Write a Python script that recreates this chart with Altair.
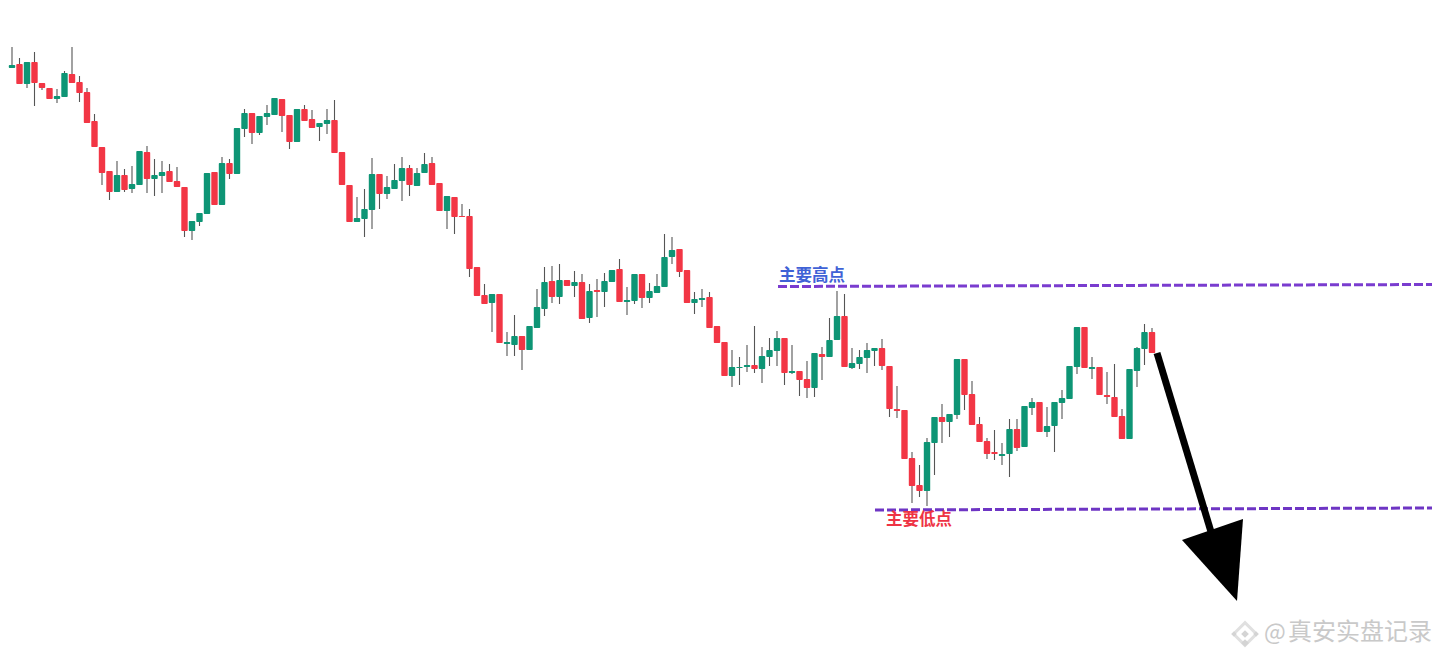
import altair as alt
import pandas as pd

# Candles (chart levels; smaller = higher on the page)
direction = ("r g r g r r r g g r "
             "r r r r r g r g g r "
             "g g r r r g g g r g "
             "r g g r g g g r r g "
             "r r g g r r r g g g "
             "r g g g r g g r r g "
             "r r r r r g r g g r "
             "g g g r g r g r g r "
             "g g r g g r g g g g "
             "r r g g r r r g g g "
             "r g g g r g r r g r "
             "g g r g g g g r r r "
             "r r r g g r g g r r "
             "r r r g g r g g r g "
             "g g g g r g r r r r "
             "g g g r").split()

body_top = [66, 65, 64, 62, 62, 83, 88, 96, 73, 74,
            82, 92, 121, 147, 171, 175, 175, 184, 151, 152,
            175, 172, 171, 181, 187, 221, 213, 173, 172, 163,
            163, 128, 113, 113, 116, 113, 98, 99, 115, 109,
            109, 119, 123, 120, 120, 152, 185, 218, 209, 174,
            174, 187, 180, 168, 168, 173, 164, 163, 183, 196,
            197, 216, 216, 267, 295, 294, 294, 342, 336, 336,
            326, 307, 282, 281, 280, 280, 282, 282, 291, 290,
            281, 270, 269, 300, 274, 274, 291, 286, 257, 250,
            249, 270, 299, 298, 297, 326, 342, 367, 367, 365,
            365, 356, 350, 338, 338, 371, 371, 379, 353, 354,
            340, 316, 316, 363, 357, 350, 348, 348, 366, 409,
            410, 458, 485, 442, 417, 417, 414, 359, 359, 394,
            424, 441, 452, 454, 429, 429, 406, 402, 402, 426,
            402, 398, 366, 327, 327, 367, 367, 395, 397, 416,
            369, 348, 332, 332]
body_bot = [69, 68, 84, 84, 83, 88, 99, 99, 97, 83,
            93, 123, 147, 173, 192, 192, 190, 189, 185, 179,
            179, 176, 182, 187, 231, 231, 222, 214, 205, 205,
            174, 174, 129, 133, 133, 117, 115, 116, 142, 142,
            121, 128, 127, 124, 153, 185, 222, 222, 219, 210,
            194, 194, 189, 181, 185, 186, 173, 185, 211, 211,
            217, 217, 269, 296, 304, 303, 343, 344, 345, 350,
            350, 328, 309, 297, 297, 286, 286, 319, 318, 292,
            292, 282, 302, 302, 301, 298, 298, 293, 287, 257,
            272, 303, 303, 300, 328, 343, 376, 376, 368, 367,
            369, 369, 357, 351, 373, 373, 380, 388, 388, 357,
            357, 340, 367, 368, 364, 358, 351, 366, 409, 411,
            459, 486, 491, 491, 443, 422, 422, 415, 395, 425,
            442, 454, 454, 456, 454, 448, 447, 408, 432, 432,
            426, 403, 399, 367, 368, 369, 395, 397, 417, 439,
            439, 371, 349, 353]
wick_top = [63, 47, 58, 62, 52, 83, 88, 89, 71, 47,
            76, 88, 114, 147, 171, 161, 169, 166, 151, 146,
            159, 161, 164, 167, 187, 221, 213, 173, 172, 157,
            159, 128, 109, 113, 116, 105, 98, 99, 115, 109,
            105, 110, 123, 109, 100, 152, 185, 197, 189, 158,
            174, 176, 164, 157, 165, 168, 153, 157, 183, 196,
            197, 204, 209, 267, 284, 294, 294, 332, 315, 336,
            326, 289, 267, 266, 264, 280, 271, 274, 284, 279,
            273, 270, 259, 287, 274, 274, 283, 274, 234, 237,
            249, 270, 292, 289, 292, 326, 342, 350, 357, 345,
            326, 347, 338, 331, 338, 345, 371, 361, 353, 347,
            318, 291, 294, 348, 350, 343, 348, 339, 366, 386,
            410, 452, 465, 438, 417, 404, 414, 359, 359, 381,
            417, 438, 430, 443, 419, 419, 406, 398, 402, 407,
            402, 390, 366, 327, 327, 357, 367, 372, 364, 409,
            369, 347, 324, 328]
wick_low = [79, 68, 84, 88, 106, 90, 99, 103, 97, 83,
            102, 123, 147, 185, 200, 192, 192, 193, 185, 193,
            196, 193, 182, 187, 237, 240, 226, 214, 205, 205,
            179, 174, 137, 144, 135, 125, 115, 132, 149, 142,
            121, 128, 141, 134, 153, 185, 222, 222, 237, 229,
            209, 199, 189, 201, 196, 186, 173, 185, 211, 229,
            234, 217, 277, 296, 304, 332, 343, 356, 356, 370,
            350, 328, 316, 303, 304, 286, 297, 319, 323, 317,
            307, 282, 302, 315, 304, 308, 303, 293, 287, 264,
            277, 303, 314, 307, 328, 343, 376, 387, 385, 372,
            373, 383, 366, 366, 385, 374, 396, 398, 397, 380,
            357, 340, 367, 369, 369, 373, 366, 370, 417, 418,
            459, 503, 497, 506, 475, 443, 437, 419, 410, 425,
            442, 459, 460, 465, 477, 451, 447, 415, 432, 437,
            452, 419, 399, 374, 368, 379, 395, 404, 417, 439,
            439, 387, 365, 353]

peak_label = "主要高点"
trough_label = "主要低点"
watermark = "真安实盘记录"

# Chart frame
PX0, STEP = 4.5, 7.5
W, H = 1424, 644


def ix(px):
    return (px - PX0) / STEP


assert len(direction) == len(body_top) == len(body_bot) == len(wick_top) == len(wick_low) == 154

candles = pd.DataFrame({
    "i": range(len(direction)),
    "dir": direction,
    "top": body_top,
    "bot": body_bot,
    "hi": wick_top,
    "lo": wick_low,
})

x_scale = alt.Scale(domain=[ix(8), ix(8 + W)], padding=0)
y_scale = alt.Scale(domain=[8 + H, 8])
x = alt.X("x:Q", scale=x_scale, axis=None)
y = alt.Y("y:Q", scale=y_scale, axis=None)
cx = alt.X("i:Q", scale=x_scale, axis=None)

wicks = alt.Chart(candles).mark_rule(color="#555555", strokeWidth=1.1, clip=True).encode(
    x=cx, y=alt.Y("hi:Q", scale=y_scale, axis=None), y2="lo:Q"
)
bodies = alt.Chart(candles).mark_bar(size=6.4, cornerRadius=1, clip=True).encode(
    x=cx,
    y=alt.Y("top:Q", scale=y_scale, axis=None),
    y2="bot:Q",
    color=alt.Color("dir:N", scale=alt.Scale(domain=["r", "g"], range=["#F23645", "#0E9575"]), legend=None),
)


def line_df(points):
    return pd.DataFrame({"x": [ix(p[0]) for p in points], "y": [p[1] for p in points]})


level_hi = alt.Chart(line_df([(778, 286.5), (1432, 284.5)])).mark_line(
    color="#7A3CCF", strokeWidth=3, strokeDash=[9, 3]).encode(x=x, y=y)
level_lo = alt.Chart(line_df([(875, 510), (1432, 508)])).mark_line(
    color="#6E35C4", strokeWidth=3, strokeDash=[9, 3]).encode(x=x, y=y)


def text_layer(px, py, txt, size, color, weight="bold"):
    d = pd.DataFrame({"x": [ix(px)], "y": [py], "t": [txt]})
    return alt.Chart(d).mark_text(
        font="Noto Sans CJK SC", fontSize=size, fontWeight=weight, color=color, align="left", baseline="middle"
    ).encode(x=x, y=y, text="t:N")


label_hi = text_layer(779, 276, peak_label, 16.5, "#3F62D6")
label_lo = text_layer(886, 520, trough_label, 16.5, "#EE3344")

shaft = alt.Chart(line_df([(1157, 353), (1215, 545)])).mark_line(color="#000000", strokeWidth=7).encode(x=x, y=y)
head = alt.Chart(pd.DataFrame({
    "x": [ix(1182), ix(1237), ix(1243)],
    "y": [540, 601, 519],
    "y2": [540, 521, 519],
})).mark_area(color="#000000", interpolate="linear").encode(x=x, y=y, y2="y2:Q")

wm_text = text_layer(1288, 633, watermark, 24, "#C9C9C9", "normal")
wm_at = text_layer(1264, 633, "@", 23, "#C9C9C9", "normal")
logo = pd.DataFrame({
    "x": [ix(1245), ix(1245), ix(1234), ix(1256), ix(1245)],
    "y": [634, 634, 634, 634, 643],
    "s": [520, 60, 30, 30, 60],
})
logo_outer = alt.Chart(logo.iloc[[0]]).mark_point(shape="diamond", filled=False, color="#D4D4D4", strokeWidth=3).encode(
    x=x, y=y, size=alt.Size("s:Q", scale=None, legend=None))
logo_inner = alt.Chart(logo.iloc[1:]).mark_point(shape="diamond", filled=True, color="#D4D4D4", opacity=1).encode(
    x=x, y=y, size=alt.Size("s:Q", scale=None, legend=None))

chart = alt.layer(
    wicks, bodies, level_hi, level_lo, label_hi, label_lo, shaft, head, logo_outer, logo_inner, wm_at, wm_text
).resolve_scale(color="independent").properties(
    width=W, height=H, padding=0, background="#ffffff",
    autosize=alt.AutoSizeParams(type="none"),
).configure_view(stroke=None)

chart.save("out.html", embed_options={"renderer": "svg", "actions": False})
